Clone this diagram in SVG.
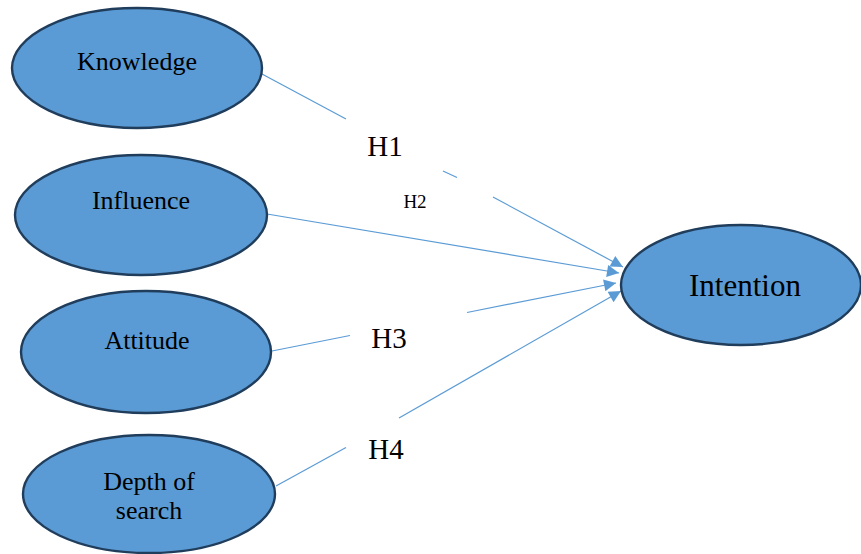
<svg xmlns="http://www.w3.org/2000/svg" width="861" height="554" viewBox="0 0 861 554">
<style>
.node{fill:#5b9bd5;stroke:#203d5c;stroke-width:2.4}
.lbl{font-family:"Liberation Serif","Times New Roman",serif;font-size:26px;fill:#000;text-anchor:middle}
.h{font-family:"Liberation Serif","Times New Roman",serif;font-size:29px;fill:#000;text-anchor:middle}
.conn{fill:none;stroke:#5b9bd5;stroke-width:1.2}
</style>
<defs>
<marker id="arr" viewBox="0 0 10 10" refX="10" refY="5" markerWidth="16" markerHeight="12" markerUnits="userSpaceOnUse" orient="auto">
<path d="M0,0 L10,5 L0,10 z" fill="#5b9bd5"/>
</marker>
</defs>
<rect width="861" height="554" fill="#fff"/>
<g id="connectors">
<path class="conn" d="M262,74 L346,119 M443,171 L457,177.5"/>
<path class="conn" d="M493,197 L623,267" marker-end="url(#arr)"/>
<path class="conn" d="M267,214 L619,273" marker-end="url(#arr)"/>
<path class="conn" d="M272,351 L350,335.5"/>
<path class="conn" d="M467,312.5 L616,283" marker-end="url(#arr)"/>
<path class="conn" d="M276,486 L346,447.5"/>
<path class="conn" d="M399,418 L621,291" marker-end="url(#arr)"/>
</g>
<g id="knowledge">
<ellipse class="node" cx="137" cy="68" rx="125" ry="60"/>
<text class="lbl" x="137" y="70">Knowledge</text>
</g>
<g id="influence">
<ellipse class="node" cx="141" cy="215" rx="126" ry="60"/>
<text class="lbl" x="141" y="209">Influence</text>
</g>
<g id="attitude">
<ellipse class="node" cx="146" cy="352" rx="125" ry="61"/>
<text class="lbl" x="147" y="349">Attitude</text>
</g>
<g id="depth">
<ellipse class="node" cx="149" cy="494" rx="126" ry="59"/>
<text class="lbl" x="149" y="490">Depth of</text>
<text class="lbl" x="149" y="519">search</text>
</g>
<g id="intention">
<ellipse class="node" cx="741" cy="285" rx="120" ry="60"/>
<text class="lbl" x="745" y="296" style="font-size:31px">Intention</text>
</g>
<g id="labels">
<text class="h" x="385" y="156">H1</text>
<text class="h" x="415" y="208" style="font-size:19px">H2</text>
<text class="h" x="389" y="348">H3</text>
<text class="h" x="386" y="459">H4</text>
</g>
</svg>
